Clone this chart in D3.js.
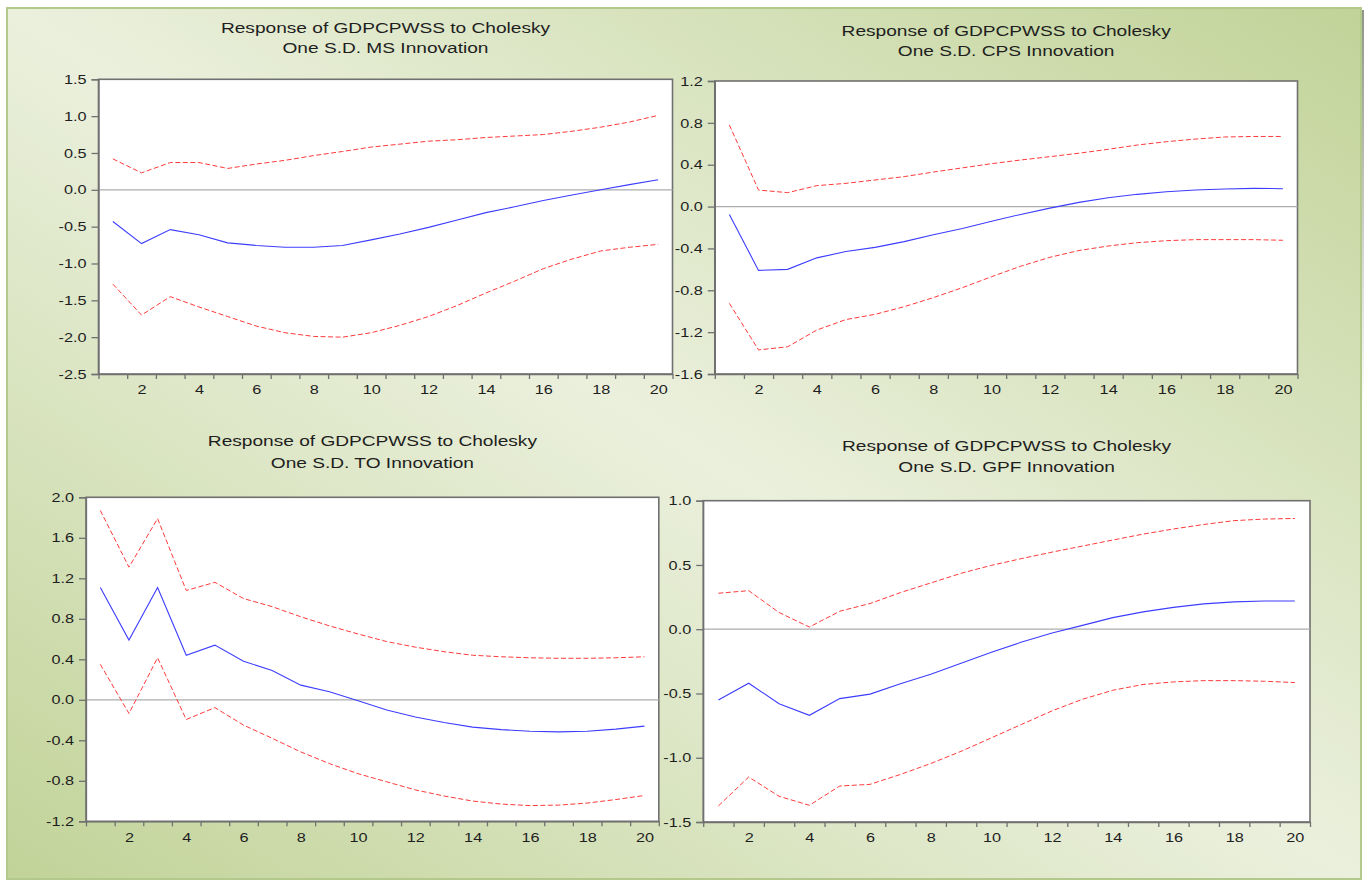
<!DOCTYPE html>
<html>
<head>
<meta charset="utf-8">
<script src="https://cdn.jsdelivr.net/npm/d3@7"></script>
<style>
  body { margin: 0; background: #fff; }
  svg { display: block; }
  text { font-family: "Liberation Sans", Arial, sans-serif; fill: #1e1e1e; }
</style>
</head>
<body>
<svg id="chart"></svg>
<script>
// impulse response periods
var periods = [1, 2, 3, 4, 5, 6, 7, 8, 9, 10, 11, 12, 13, 14, 15, 16, 17, 18, 19, 20];
var xLabels = [2, 4, 6, 8, 10, 12, 14, 16, 18, 20];

// response to MS
var msResp  = [-0.43, -0.73, -0.54, -0.61, -0.72, -0.755, -0.78, -0.78, -0.755, -0.68, -0.60, -0.51, -0.41, -0.31, -0.23, -0.145, -0.07, 0.0, 0.07, 0.136];
var msUpper = [0.42, 0.23, 0.37, 0.37, 0.29, 0.35, 0.40, 0.465, 0.52, 0.58, 0.62, 0.66, 0.68, 0.71, 0.73, 0.75, 0.795, 0.85, 0.92, 1.01];
var msLower = [-1.28, -1.70, -1.45, -1.59, -1.72, -1.85, -1.94, -1.99, -2.0, -1.94, -1.84, -1.72, -1.57, -1.40, -1.24, -1.07, -0.94, -0.83, -0.78, -0.74];
var msTicks = [-2.5, -2.0, -1.5, -1.0, -0.5, 0, 0.5, 1.0, 1.5];

// response to CPS
var cpsResp  = [-0.075, -0.61, -0.60, -0.49, -0.43, -0.39, -0.335, -0.27, -0.21, -0.14, -0.075, -0.015, 0.04, 0.085, 0.117, 0.142, 0.158, 0.168, 0.174, 0.171];
var cpsUpper = [0.78, 0.158, 0.133, 0.20, 0.222, 0.254, 0.286, 0.33, 0.37, 0.41, 0.445, 0.477, 0.51, 0.547, 0.588, 0.62, 0.645, 0.665, 0.67, 0.67];
var cpsLower = [-0.925, -1.37, -1.34, -1.18, -1.08, -1.03, -0.957, -0.87, -0.775, -0.67, -0.57, -0.485, -0.42, -0.377, -0.345, -0.326, -0.316, -0.316, -0.316, -0.322];
var cpsTicks = [-1.6, -1.2, -0.8, -0.4, 0, 0.4, 0.8, 1.2];

// response to TO
var toResp  = [1.11, 0.59, 1.11, 0.44, 0.54, 0.38, 0.29, 0.145, 0.08, -0.01, -0.10, -0.17, -0.225, -0.27, -0.295, -0.31, -0.317, -0.31, -0.29, -0.26];
var toUpper = [1.87, 1.31, 1.79, 1.08, 1.16, 1.0, 0.92, 0.82, 0.73, 0.65, 0.575, 0.52, 0.475, 0.44, 0.425, 0.415, 0.41, 0.41, 0.415, 0.425];
var toLower = [0.35, -0.135, 0.415, -0.195, -0.077, -0.25, -0.38, -0.515, -0.63, -0.73, -0.81, -0.89, -0.95, -1.0, -1.03, -1.045, -1.04, -1.02, -0.985, -0.945];
var toTicks = [-1.2, -0.8, -0.4, 0, 0.4, 0.8, 1.2, 1.6, 2.0];

// response to GPF
var gpfResp  = [-0.55, -0.42, -0.58, -0.67, -0.54, -0.505, -0.425, -0.35, -0.265, -0.18, -0.10, -0.03, 0.03, 0.09, 0.135, 0.17, 0.197, 0.213, 0.22, 0.22];
var gpfUpper = [0.28, 0.30, 0.13, 0.017, 0.14, 0.20, 0.285, 0.36, 0.435, 0.497, 0.55, 0.60, 0.647, 0.694, 0.74, 0.78, 0.815, 0.845, 0.857, 0.862];
var gpfLower = [-1.375, -1.15, -1.30, -1.37, -1.22, -1.207, -1.13, -1.045, -0.95, -0.845, -0.74, -0.635, -0.545, -0.475, -0.43, -0.41, -0.40, -0.40, -0.405, -0.415];
var gpfTicks = [-1.5, -1.0, -0.5, 0, 0.5, 1.0];

var titleTop = "Response of GDPCPWSS to Cholesky";

var width = 1370, height = 882;
var stretch = 1.25; // text in the picture is a bit wide

var svg = d3.select("#chart")
  .attr("width", width)
  .attr("height", height);

// background gradient
var defs = svg.append("defs");
var bg = defs.append("linearGradient")
  .attr("id", "bg")
  .attr("x1", 1).attr("y1", 0)
  .attr("x2", 0).attr("y2", 1);
bg.append("stop").attr("offset", 0).attr("stop-color", "#c1d398");
bg.append("stop").attr("offset", 0.5).attr("stop-color", "#ebf0dd");
bg.append("stop").attr("offset", 1).attr("stop-color", "#c1d398");

var shade = defs.append("linearGradient")
  .attr("id", "shade")
  .attr("x1", 0).attr("y1", 0)
  .attr("x2", 0).attr("y2", 1);
shade.append("stop").attr("offset", 0).attr("stop-color", "#8f9688");
shade.append("stop").attr("offset", 1).attr("stop-color", "#8f9688").attr("stop-opacity", 0);

svg.append("rect")
  .attr("x", 1361).attr("y", 10)
  .attr("width", 3).attr("height", 400)
  .attr("fill", "url(#shade)");

svg.append("rect")
  .attr("x", 7).attr("y", 8)
  .attr("width", 1354).attr("height", 871)
  .attr("fill", "url(#bg)")
  .attr("stroke", "#b3c98b")
  .attr("stroke-width", 2);

var panels = [
  { name: "MS",  resp: msResp,  upper: msUpper,  lower: msLower,  ticks: msTicks,
    box: { left: 98.5, top: 79.3, right: 672.5, bottom: 374 }, titleY: [33, 52.5] },
  { name: "CPS", resp: cpsResp, upper: cpsUpper, lower: cpsLower, ticks: cpsTicks,
    box: { left: 714.8, top: 81, right: 1297.5, bottom: 374 }, titleY: [36, 55.5] },
  { name: "TO",  resp: toResp,  upper: toUpper,  lower: toLower,  ticks: toTicks,
    box: { left: 86, top: 497.3, right: 658.8, bottom: 821.3 }, titleY: [446, 468] },
  { name: "GPF", resp: gpfResp, upper: gpfUpper, lower: gpfLower, ticks: gpfTicks,
    box: { left: 703.2, top: 500.7, right: 1310, bottom: 822 }, titleY: [450.5, 471.5] }
];

var fmt = function (d) { return d.toFixed(1); };
var frameColor = "#707070";

panels.forEach(function (p) {
  var b = p.box;
  var g = svg.append("g");

  var x = d3.scaleLinear()
    .domain([0.5, 20.5])
    .range([b.left, b.right]);

  var y = d3.scaleLinear()
    .domain([d3.min(p.ticks), d3.max(p.ticks)])
    .range([b.bottom, b.top]);

  // plot area
  g.append("rect")
    .attr("x", b.left).attr("y", b.top)
    .attr("width", b.right - b.left).attr("height", b.bottom - b.top)
    .attr("fill", "#fff")
    .attr("stroke", frameColor)
    .attr("stroke-width", 1.6);

  // zero line
  g.append("line")
    .attr("x1", b.left).attr("x2", b.right)
    .attr("y1", y(0)).attr("y2", y(0))
    .attr("stroke", "#adadad")
    .attr("stroke-width", 1.2);

  // titles
  var cx = (b.left + b.right) / 2;
  [titleTop, "One S.D. " + p.name + " Innovation"].forEach(function (t, i) {
    g.append("text")
      .attr("transform", "translate(" + cx + "," + p.titleY[i] + ") scale(" + stretch + ",1)")
      .attr("text-anchor", "middle")
      .style("font-size", "15.3px")
      .text(t);
  });

  // y axis
  var yAxis = g.append("g")
    .attr("transform", "translate(" + b.left + ",0)")
    .call(d3.axisLeft(y).tickValues(p.ticks).tickFormat(fmt).tickSize(7).tickPadding(5));
  yAxis.selectAll("text")
    .attr("transform", "scale(" + stretch + ",1)")
    .attr("x", -12 / stretch)
    .style("font-size", "13px")
    .attr("fill", "#1e1e1e");

  // x axis: boundary ticks
  var bounds = periods.map(function (d) { return d - 0.5; }).concat([20.5]);
  g.append("g")
    .attr("transform", "translate(0," + b.bottom + ")")
    .call(d3.axisBottom(x).tickValues(bounds).tickFormat("").tickSize(5).tickSizeOuter(0));

  // x axis: labels at even periods
  var xAxis = g.append("g")
    .attr("transform", "translate(0," + b.bottom + ")")
    .call(d3.axisBottom(x).tickValues(xLabels).tickFormat(d3.format("d")).tickSize(0).tickPadding(11));
  xAxis.select(".domain").remove();
  xAxis.selectAll("text")
    .attr("transform", "scale(" + stretch + ",1)")
    .style("font-size", "13px")
    .attr("fill", "#1e1e1e");

  g.selectAll(".domain, .tick line")
    .attr("stroke", frameColor)
    .attr("stroke-width", 1.3);

  // response lines
  var line = d3.line()
    .x(function (d, i) { return x(periods[i]); })
    .y(function (d) { return y(d); });

  [p.upper, p.lower].forEach(function (s) {
    g.append("path")
      .datum(s)
      .attr("d", line)
      .attr("fill", "none")
      .attr("stroke", "#ff3a3a")
      .attr("stroke-width", 1)
      .attr("stroke-dasharray", "5,2.5");
  });

  g.append("path")
    .datum(p.resp)
    .attr("d", line)
    .attr("fill", "none")
    .attr("stroke", "#3d3dff")
    .attr("stroke-width", 1.1);
});
</script>
</body>
</html>
